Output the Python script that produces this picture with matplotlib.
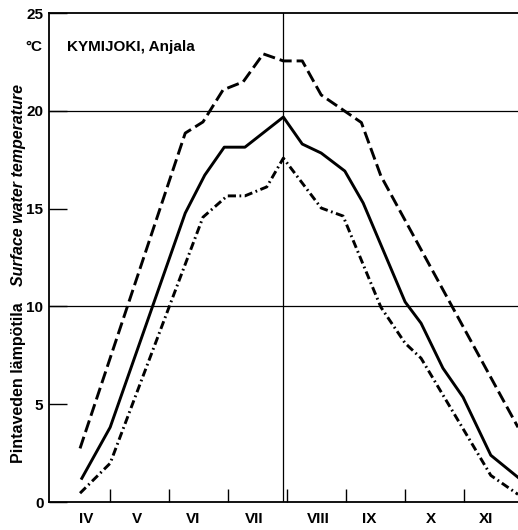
import matplotlib
matplotlib.use("Agg")
import matplotlib.pyplot as plt

plt.rcParams["font.family"] = ["Liberation Sans", "DejaVu Sans"]
plt.rcParams["font.weight"] = "bold"

# x in months since 1 April (1 = 1 May, ... 4 = 1 Aug)
max_x = [0.50, 2.28, 2.58, 2.92, 3.26, 3.60, 3.94, 4.26, 4.58, 5.26, 5.59, 7.91]
max_t = [2.74, 18.86, 19.43, 21.07, 21.48, 22.91, 22.55, 22.55, 20.81, 19.40, 16.67, 3.82]

mean_x = [0.53, 1.01, 2.28, 2.61, 2.94, 3.29, 3.94, 4.26, 4.58, 4.98, 5.29, 6.00, 6.27, 6.64, 6.98, 7.45, 7.91]
mean_t = [1.21, 3.82, 14.77, 16.71, 18.14, 18.14, 19.68, 18.30, 17.84, 16.92, 15.29, 10.23, 9.14, 6.84, 5.36, 2.39, 1.26]

min_x = [0.50, 1.01, 2.58, 2.99, 3.29, 3.66, 3.94, 4.58, 4.95, 5.59, 6.00, 6.27, 7.45, 7.91]
min_t = [0.45, 1.98, 14.56, 15.65, 15.65, 16.11, 17.58, 15.03, 14.62, 9.96, 8.12, 7.35, 1.36, 0.39]

month_labels = ["IV", "V", "VI", "VII", "VIII", "IX", "X", "XI"]
month_label_x = [0.60, 1.46, 2.41, 3.44, 4.53, 5.39, 6.44, 7.37]
month_bounds = [1, 2, 3, 4, 5, 6, 7]
y_ticks = [0, 5, 10, 15, 20, 25]
grid_y = [10, 20]
divider_x = 3.94

title = "KYMIJOKI, Anjala"
unit = "°C"
ylabel_fi = "Pintaveden lämpötila"
ylabel_en = "Surface water temperature"

W, H = 518, 530
fig = plt.figure(figsize=(W / 100, H / 100), dpi=100)
ax = fig.add_axes([49 / W, 1 - 502 / H, (518 - 49) / W, (502 - 13) / H])

ax.set_xlim(-0.025, 7.91)
ax.set_ylim(0, 25)

for gy in grid_y:
    ax.axhline(gy, color="black", lw=0.9, zorder=1)
ax.axvline(divider_x, color="black", lw=0.9, zorder=1)

lw = 2.1
ax.plot(max_x, max_t, color="black", lw=lw, linestyle=(0, (4.2, 1.7)),
        dash_capstyle="butt", zorder=3)
ax.plot(mean_x, mean_t, color="black", lw=lw, linestyle="-", zorder=3)
ax.plot(min_x, min_t, color="black", lw=lw, linestyle=(0, (2.8, 1.2, 0.6, 1.2)),
        dash_capstyle="butt", zorder=3)

for side in ["left", "bottom", "top"]:
    ax.spines[side].set_linewidth(1.3)
ax.spines["right"].set_visible(False)

ax.set_yticks(y_ticks)
ax.set_yticklabels([str(v) for v in y_ticks], fontweight="bold")
ax.tick_params(axis="y", direction="in", length=13, width=1.0, pad=4,
               labelsize=11)

ax.set_xticks(month_bounds)
ax.set_xticklabels([])
ax.tick_params(axis="x", which="major", direction="in", length=9.5, width=1.0)
ax.set_xticks(month_label_x, minor=True)
ax.set_xticklabels(month_labels, minor=True, fontweight="bold")
ax.tick_params(axis="x", which="minor", length=0, pad=7, labelsize=11)

ax.text(0.038, 0.930, title, transform=ax.transAxes, fontsize=11,
        fontweight="bold", ha="left", va="center")
fig.text(42.5 / W, 1 - 47 / H, unit, fontsize=11, fontweight="bold",
         ha="right", va="center")

fig.text(18.5 / W, 1 - 383 / H, ylabel_fi, rotation=90, fontsize=11.5,
         fontweight="bold", ha="center", va="center")
fig.text(18.5 / W, 1 - 185 / H, ylabel_en, rotation=90, fontsize=11.5,
         fontweight="bold", style="italic", ha="center", va="center")

fig.savefig("out.png", dpi=100)
